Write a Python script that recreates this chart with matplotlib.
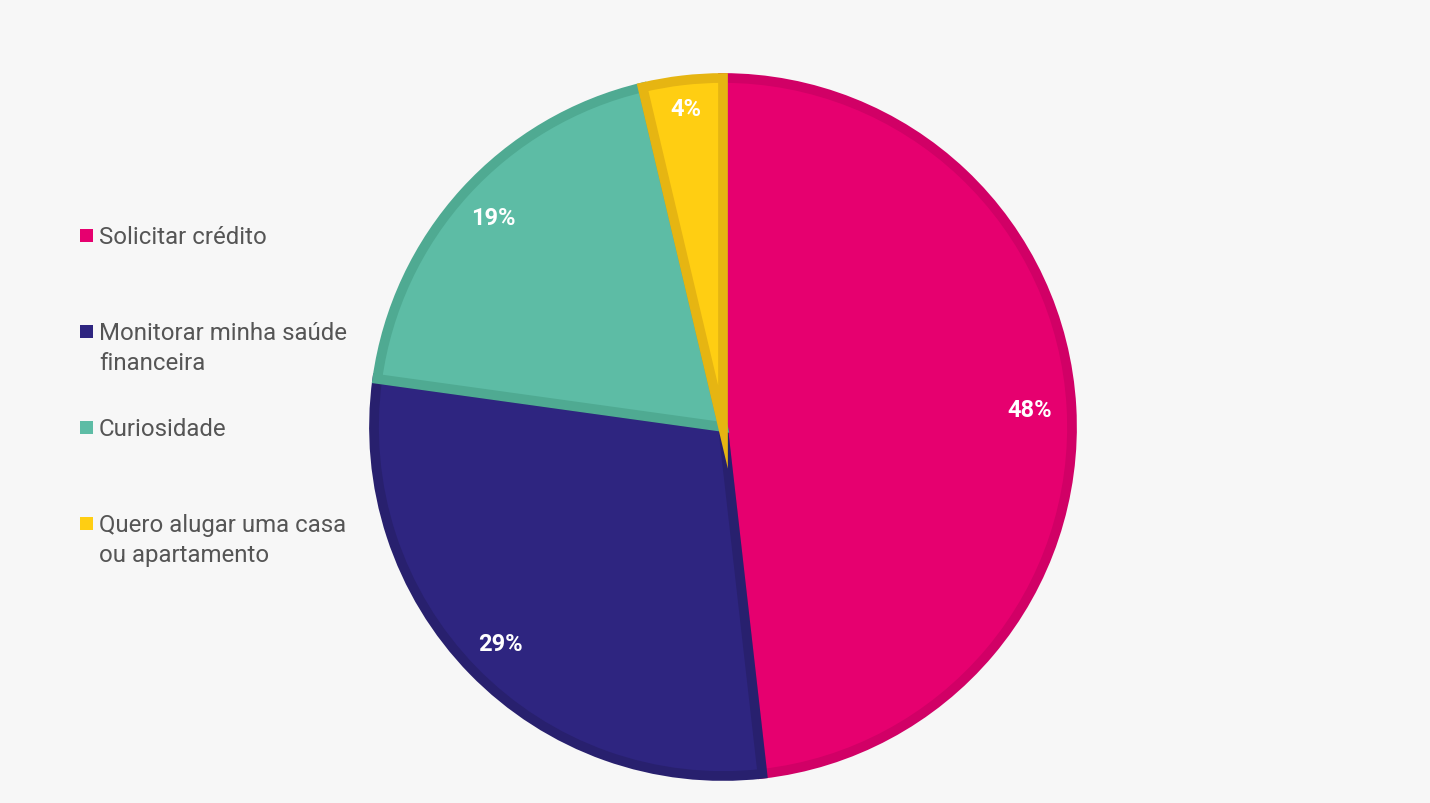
import numpy as np
import matplotlib.pyplot as plt
from matplotlib.patches import Rectangle

labels = ["Solicitar crédito", "Monitorar minha saúde\nfinanceira",
          "Curiosidade", "Quero alugar uma casa\nou apartamento"]
values = [48.2, 29.0, 19.1, 3.7]
colors = ["#E6006F", "#2E2580", "#5DBCA5", "#FFCE12"]
edges = ["#D10066", "#28206E", "#4FAA92", "#E6B512"]

W, H = 1430, 804
plt.rcParams['font.family'] = ['Roboto', 'DejaVu Sans']

fig = plt.figure(figsize=(W / 100, H / 100), dpi=100, facecolor="#F7F7F7")

# pie centre (723, 428) px from top-left
cx, cy, r = 723, 428, 349
ax = fig.add_axes([(cx - r) / W, (H - cy - r) / H, 2 * r / W, 2 * r / H])
ax.set_facecolor("none")

wedges, _, autotexts = ax.pie(values, colors=colors, startangle=90, counterclock=False,
                              autopct=lambda p: "{:.0f}%".format(p), pctdistance=0.89,
                              wedgeprops=dict(linewidth=7))
for w, ec in zip(wedges, edges):
    w.set_edgecolor(ec)
    w.set_clip_path(w)  # keep the stroke inside each slice

# label distances from centre, as in the reference
dists = [0.88, 0.89, 0.89, 0.92]
for w, t, d in zip(wedges, autotexts, dists):
    ang = np.deg2rad((w.theta1 + w.theta2) / 2)
    t.set_position((d * np.cos(ang), d * np.sin(ang)))
    t.set_color("white")
    t.set_fontweight("bold")
    t.set_fontsize(17)
ax.set_xlim(-1, 1)
ax.set_ylim(-1, 1)
ax.set_aspect("equal")
ax.axis("off")

# legend on the left
y0, step, line_h = 236, 96, 30
for i, (lab, col) in enumerate(zip(labels, colors)):
    yc = y0 + i * step
    fig.patches.append(Rectangle((80 / W, (H - yc - 7) / H), 13 / W, 13 / H,
                                 transform=fig.transFigure, facecolor=col,
                                 edgecolor="none"))
    for j, line in enumerate(lab.split("\n")):
        fig.text(99 / W, (H - (yc + j * line_h) - 8) / H, line,
                 fontsize=17.3, color="#555555", va="baseline", ha="left")

fig.savefig("out.png", dpi=100, facecolor=fig.get_facecolor())
